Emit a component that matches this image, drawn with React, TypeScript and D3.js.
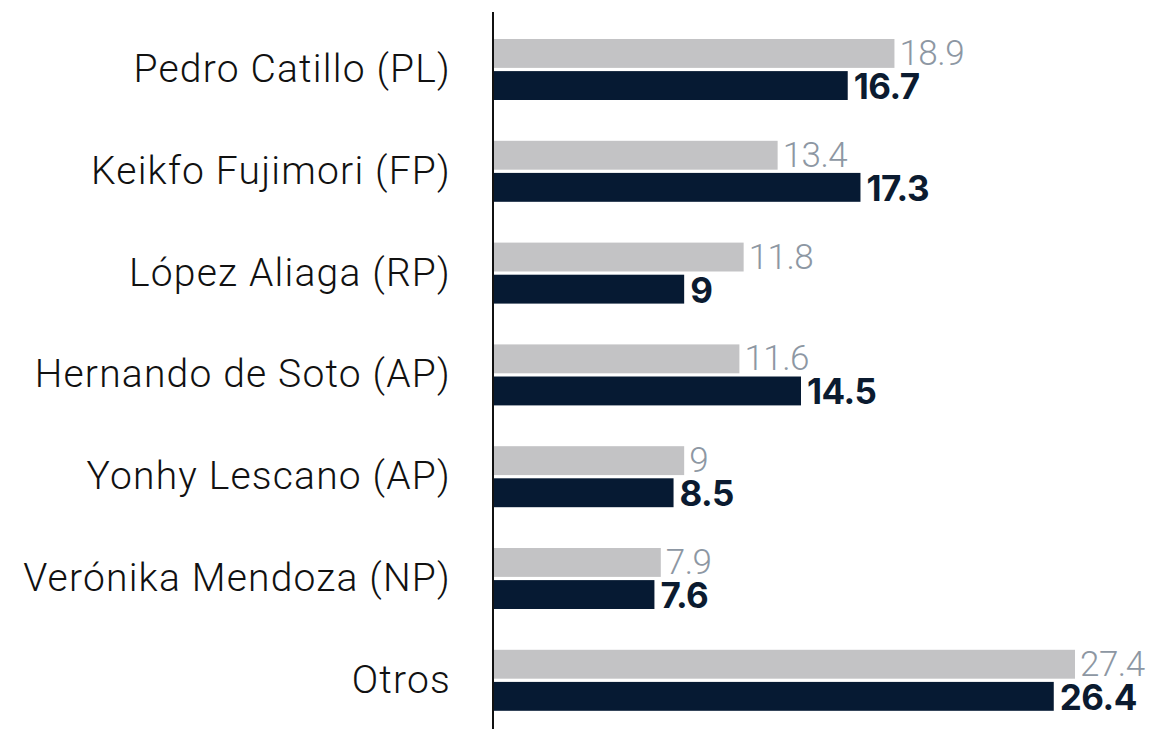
import React, { useEffect, useRef } from 'react';
import * as d3 from 'd3';

// candidate names, top to bottom
const candidates = [
  'Pedro Catillo (PL)',
  'Keikfo Fujimori (FP)',
  'López Aliaga (RP)',
  'Hernando de Soto (AP)',
  'Yonhy Lescano (AP)',
  'Verónika Mendoza (NP)',
  'Otros',
];

// earlier poll (grey) and latest poll (dark)
const previous = [18.9, 13.4, 11.8, 11.6, 9, 7.9, 27.4];
const current = [16.7, 17.3, 9, 14.5, 8.5, 7.6, 26.4];

const series = ['previous', 'current'];

const W = 1154;
const H = 729;

const App = () => {
  const ref = useRef<SVGSVGElement>(null);

  useEffect(() => {
    const svg = d3.select(ref.current);
    svg.selectAll('*').remove();

    const x0 = 493;
    const x = d3.scaleLinear().domain([0, 27.4]).range([x0, 1075]);
    const y = d3.scaleBand().domain(candidates).range([18.6, 731.2]).padding(0);
    const sub = d3.scaleBand().domain(series).range([-30.5, 30.5]).paddingInner(0.1);

    const rows = candidates.map((name, i) => ({
      name,
      values: [
        { key: 'previous', v: previous[i] },
        { key: 'current', v: current[i] },
      ],
    }));

    const g = svg.selectAll('g.row')
      .data(rows)
      .enter()
      .append('g')
      .attr('class', 'row')
      .attr('transform', d => `translate(0,${y(d.name)! + y.bandwidth() / 2})`);

    g.append('text')
      .attr('x', 451)
      .attr('y', 12.5)
      .attr('text-anchor', 'end')
      .style('font-family', 'Roboto, sans-serif')
      .style('font-weight', 300)
      .style('font-size', '39px')
      .style('letter-spacing', '1.2px')
      .attr('fill', '#111')
      .text(d => d.name);

    const bars = g.selectAll('g.bar')
      .data(d => d.values)
      .enter()
      .append('g')
      .attr('class', 'bar');

    bars.append('rect')
      .attr('x', x0)
      .attr('y', d => sub(d.key)!)
      .attr('width', d => x(d.v) - x0)
      .attr('height', sub.bandwidth())
      .attr('fill', d => (d.key === 'previous' ? '#c3c3c5' : '#061a33'));

    bars.append('text')
      .attr('x', d => x(d.v) + (d.key === 'previous' ? 5 : 6))
      .attr('y', d => sub(d.key)! + sub.bandwidth() - (d.key === 'previous' ? 3 : 1))
      .style('font-family', d => (d.key === 'previous' ? 'Roboto, sans-serif' : 'Inter, sans-serif'))
      .style('font-size', '35px')
      .style('font-weight', d => (d.key === 'previous' ? 300 : 700))
      .style('letter-spacing', d => (d.key === 'previous' ? '-0.5px' : '-0.5px'))
      .attr('fill', d => (d.key === 'previous' ? '#8d97a3' : '#0b1b30'))
      .text(d => String(d.v));

    // vertical baseline
    svg.append('line')
      .attr('x1', x0)
      .attr('x2', x0)
      .attr('y1', 12)
      .attr('y2', H)
      .attr('stroke', '#111')
      .attr('stroke-width', 2);
  }, []);

  return (
    <svg
      ref={ref}
      width={W}
      height={H}
      style={{ position: 'absolute', left: 0, top: 0, background: '#fff' }}
    />
  );
};

export default App;
